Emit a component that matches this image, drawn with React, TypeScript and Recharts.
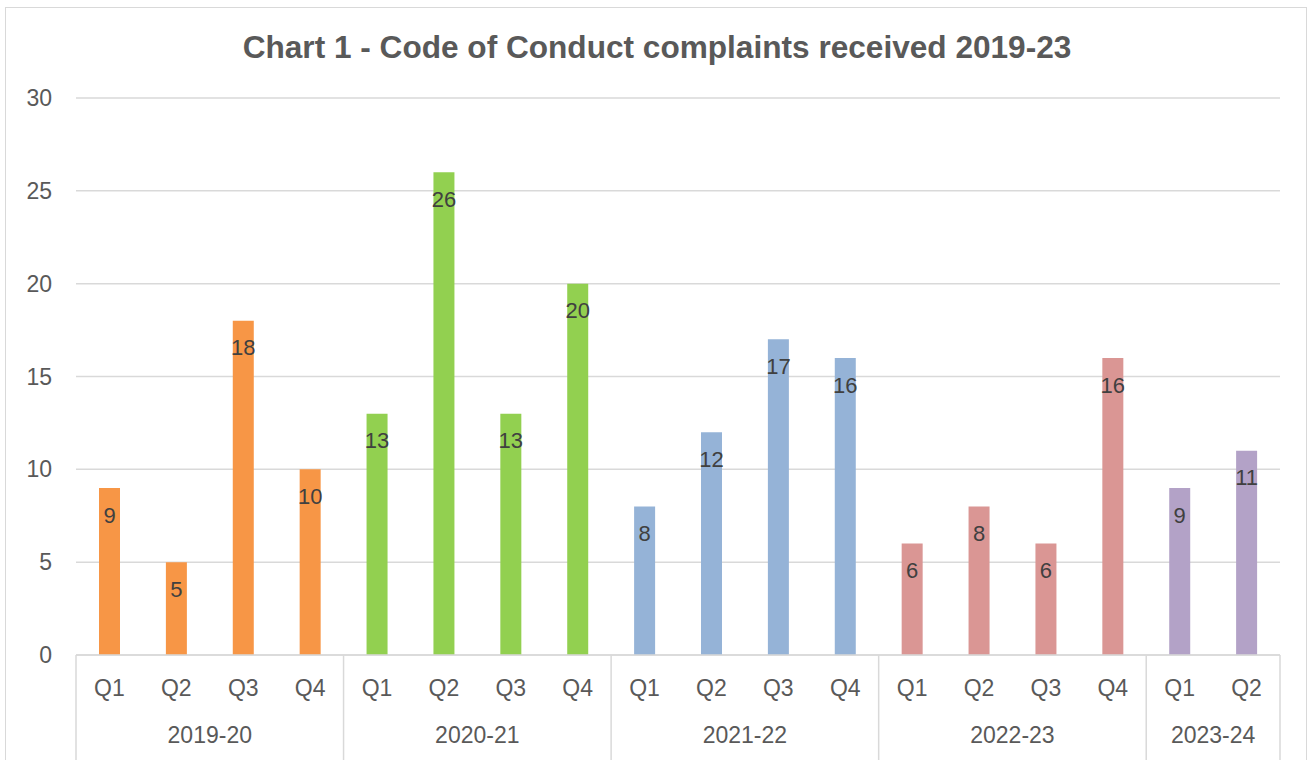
import React from "react";
import { BarChart, Bar, XAxis, YAxis, CartesianGrid, LabelList, Cell } from "recharts";

const quarters = ["Q1", "Q2", "Q3", "Q4", "Q1", "Q2", "Q3", "Q4", "Q1", "Q2", "Q3", "Q4", "Q1", "Q2", "Q3", "Q4", "Q1", "Q2"];
const years = ["2019-20", "2019-20", "2019-20", "2019-20", "2020-21", "2020-21", "2020-21", "2020-21", "2021-22", "2021-22", "2021-22", "2021-22", "2022-23", "2022-23", "2022-23", "2022-23", "2023-24", "2023-24"];
const complaints = [9, 5, 18, 10, 13, 26, 13, 20, 8, 12, 17, 16, 6, 8, 6, 16, 9, 11];
const yearGroups = ["2019-20", "2020-21", "2021-22", "2022-23", "2023-24"];
const groupColors = ["#F79646", "#92D050", "#95B3D7", "#DA9694", "#B3A2C7"];
const yTicks = [0, 5, 10, 15, 20, 25, 30];

const data = quarters.map((q, i) => ({ key: `${years[i]}-${q}`, q, year: years[i], value: complaints[i] }));

const FONT = "'Liberation Sans', Arial, sans-serif";

const XTick = (props: any) => {
  const { x, y, payload } = props;
  const i = payload.index as number;
  const bw = (payload.offset ?? 33.45) * 2;
  const yr = years[i];
  const first = i === 0 || years[i - 1] !== yr;
  const last = i === years.length - 1;
  let count = 0;
  for (let j = i; j < years.length && years[j] === yr; j++) count++;
  const left = x - bw / 2;
  return (
    <g>
      <text x={x} y={y + 41} textAnchor="middle" fontFamily={FONT} fontSize={23} fill="#595959">
        {quarters[i]}
      </text>
      {first && (
        <>
          <line x1={left} y1={y} x2={left} y2={y + 110} stroke="#D9D9D9" strokeWidth={1.5} />
          <text x={left + (count * bw) / 2} y={y + 88} textAnchor="middle" fontFamily={FONT} fontSize={23} fill="#595959">
            {yr}
          </text>
        </>
      )}
      {last && <line x1={x + bw / 2} y1={y} x2={x + bw / 2} y2={y + 110} stroke="#D9D9D9" strokeWidth={1.5} />}
    </g>
  );
};

export default function App() {
  return (
    <div style={{ position: "absolute", left: 0, top: 0, width: 1308, height: 760, overflow: "hidden", background: "#fff" }}>
      <div style={{ position: "absolute", left: 5, top: 7, width: 1300, height: 800, border: "1.5px solid #D9D9D9" }} />
      <div
        style={{
          position: "absolute",
          left: 0,
          width: 1314,
          top: 29,
          textAlign: "center",
          fontFamily: FONT,
          fontWeight: "bold",
          fontSize: 31.6,
          color: "#595959",
          lineHeight: "36px",
        }}
      >
        Chart 1 - Code of Conduct complaints received 2019-23
      </div>
      <div style={{ position: "absolute", left: 0, top: 0 }}>
        <BarChart width={1308} height={760} data={data} margin={{ top: 98, right: 28, left: 0, bottom: 0 }}>
          <CartesianGrid vertical={false} stroke="#D9D9D9" strokeWidth={1.5} />
          <XAxis
            dataKey="key"
            interval={0}
            height={105}
            tickLine={false}
            tickSize={0}
            tickMargin={0}
            axisLine={{ stroke: "#D9D9D9", strokeWidth: 1.5 }}
            tick={<XTick />}
          />
          <YAxis
            width={76}
            domain={[0, 30]}
            ticks={yTicks}
            axisLine={false}
            tickLine={false}
            tickSize={0}
            tickMargin={24}
            tick={{ fontFamily: FONT, fontSize: 23, fill: "#595959" }}
          />
          <Bar dataKey="value" barSize={21} isAnimationActive={false}>
            {data.map((d, i) => (
              <Cell key={d.key} fill={groupColors[yearGroups.indexOf(d.year)]} />
            ))}
            <LabelList dataKey="value" position="insideTop" offset={19} fontFamily={FONT} fontSize={22} fill="#404040" />
          </Bar>
        </BarChart>
      </div>
    </div>
  );
}
